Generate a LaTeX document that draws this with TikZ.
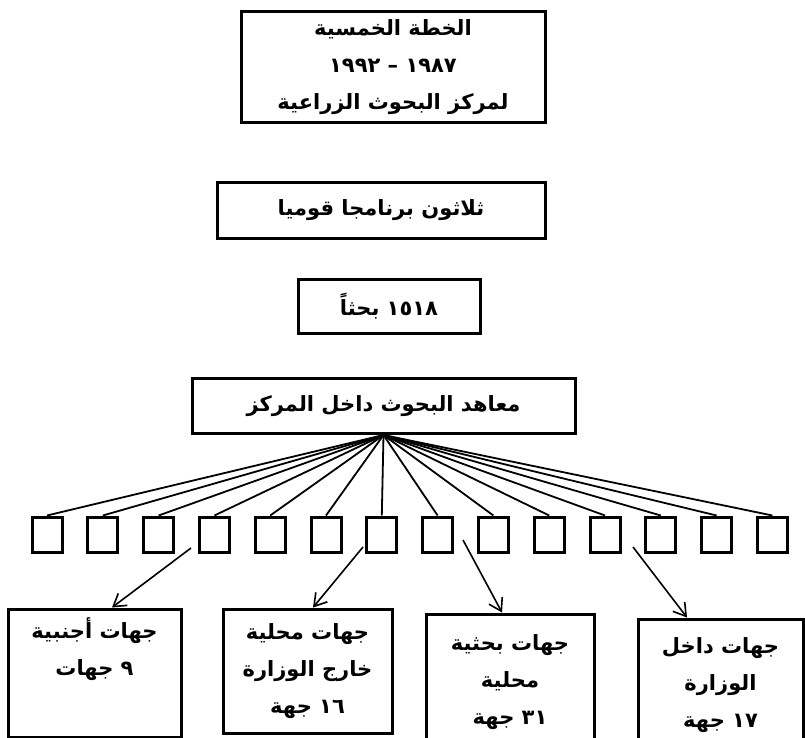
\documentclass[tikz,border=0pt]{standalone}
\usepackage{fontspec}
\usetikzlibrary{arrows.meta}
\newfontfamily\arabicfont[Script=Arabic]{DejaVu Sans}
\TeXXeTstate=1
\newcommand{\artxt}[1]{\beginR #1\endR}
\tikzset{
  caja/.style={draw, line width=3pt, align=center, inner sep=0pt,
    font=\arabicfont\bfseries\fontsize{21}{37}\selectfont},
  cuadro/.style={draw, line width=3pt, minimum width=30pt, minimum height=35pt, inner sep=0pt},
  rayo/.style={line width=1.8pt},
  flecha/.style={->, line width=1.6pt, >={Straight Barb[length=12pt,width=15pt]}}
}
\begin{document}
\begin{tikzpicture}[x=1pt,y=-1pt]

	\useasboundingbox (0,0) rectangle (805,738);
	\clip (0,0) rectangle (805,738);

		%Cajas de arriba
		\node[caja, minimum width=304pt, minimum height=111pt] (plan) at (393,67.5)
		{\artxt{الخطة الخمسية}\\\artxt{١٩٨٧ – ١٩٩٢}\\\artxt{لمركز البحوث الزراعية}};
		\node[caja, minimum width=328pt, minimum height=55pt] (progs) at (381,210.5)
		{\artxt{ثلاثون برنامجا قوميا}};
		\node[caja, minimum width=182pt, minimum height=54pt] (res) at (389,306)
		{\artxt{١٥١٨ بحثاً}};
		\node[caja, minimum width=383pt, minimum height=55pt] (inst) at (383.5,406)
		{\artxt{معاهد البحوث داخل المركز}};

		%Fila de cuadros y lineas desde los institutos
		\foreach \i in {1,...,14} {
			\node[cuadro] (s\i) at ({47+55.8*(\i-1)},534.5) {};
			\draw[rayo] (inst.south) -- (s\i.north);
		}

		%Cajas de abajo
		\node[caja, minimum width=173pt, minimum height=128pt, text height=20pt, text depth=15pt] (b1) at (94.5,673)
		{\artxt{جهات أجنبية}\\\artxt{٩ جهات}};
		\node[caja, minimum width=169pt, minimum height=124pt] (b2) at (307.5,671)
		{\artxt{جهات محلية}\\\artxt{خارج الوزارة}\\\artxt{١٦ جهة}};
		\node[caja, minimum width=168pt, minimum height=136pt] (b3) at (510,682)
		{\artxt{جهات بحثية}\\\artxt{محلية}\\\artxt{٣١ جهة}};
		\node[caja, minimum width=165pt, minimum height=132pt] (b4) at (720.5,685)
		{\artxt{جهات داخل}\\\artxt{الوزارة}\\\artxt{١٧ جهة}};

		%Flechas hacia las cajas de abajo
		\coordinate (p1) at (191,548);
		\coordinate (p2) at (363,547);
		\coordinate (p3) at (463,540);
		\coordinate (p4) at (633,547);
		\draw[flecha] (p1) -- ([xshift=17.5pt]b1.north);
		\draw[flecha] (p2) -- ([xshift=5.5pt]b2.north);
		\draw[flecha] (p3) -- ([xshift=-8pt]b3.north);
		\draw[flecha] (p4) -- ([xshift=-33.5pt]b4.north);

\end{tikzpicture}
\end{document}
